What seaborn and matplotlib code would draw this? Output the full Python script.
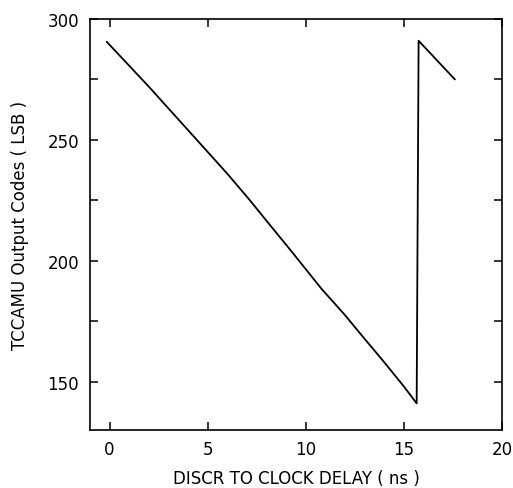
import matplotlib
matplotlib.use("Agg")
import matplotlib.pyplot as plt
import seaborn as sns
import pandas as pd

# Data
delay_ns = [-0.15, 2.0, 4.0, 6.0, 7.1, 8.0, 9.3, 10.0, 10.8, 12.0, 12.7, 14.0, 15.0, 15.65, 15.75, 17.6]
codes = [290.6, 272.0, 254.0, 236.0, 225.5, 216.5, 203.6, 196.5, 188.4, 177.5, 170.6, 158.0, 148.0, 141.0, 291.0, 275.0]

x_ticks = [0, 5, 10, 15, 20]
y_major = [150, 200, 250, 300]
y_all = [150, 175, 200, 225, 250, 275, 300]

df = pd.DataFrame({"delay": delay_ns, "code": codes})

sns.set_theme(style="ticks")
plt.rcParams["font.family"] = ["DejaVu Sans"]

fig = plt.figure(figsize=(5.13, 4.89), dpi=100)
ax = fig.add_axes([90 / 513, (489 - 431) / 489, (502 - 90) / 513, (431 - 20) / 489])

sns.lineplot(data=df, x="delay", y="code", sort=False, estimator=None,
             color="black", linewidth=1.3, ax=ax)

ax.set_xlim(-1.0, 20.0)
ax.set_ylim(130, 300)
ax.set_xticks(x_ticks)
ax.set_xticklabels([str(v) for v in x_ticks])
ax.set_yticks(y_all)
ax.set_yticklabels([str(v) if v in y_major else "" for v in y_all])

ax.tick_params(axis="both", direction="in", length=6, width=1.1, color="black",
               top=True, right=True, labelsize=12, labelcolor="black")
ax.tick_params(axis="x", pad=7)
ax.tick_params(axis="y", pad=8)

for s in ax.spines.values():
    s.set_visible(True)
    s.set_linewidth(1.2)
    s.set_color("black")

ax.set_xlabel("DISCR TO CLOCK DELAY ( ns )", fontsize=12, labelpad=8, color="black")
ax.set_ylabel("TCCAMU Output Codes ( LSB )", fontsize=12, labelpad=13, color="black")

fig.savefig("out.png", dpi=100)
